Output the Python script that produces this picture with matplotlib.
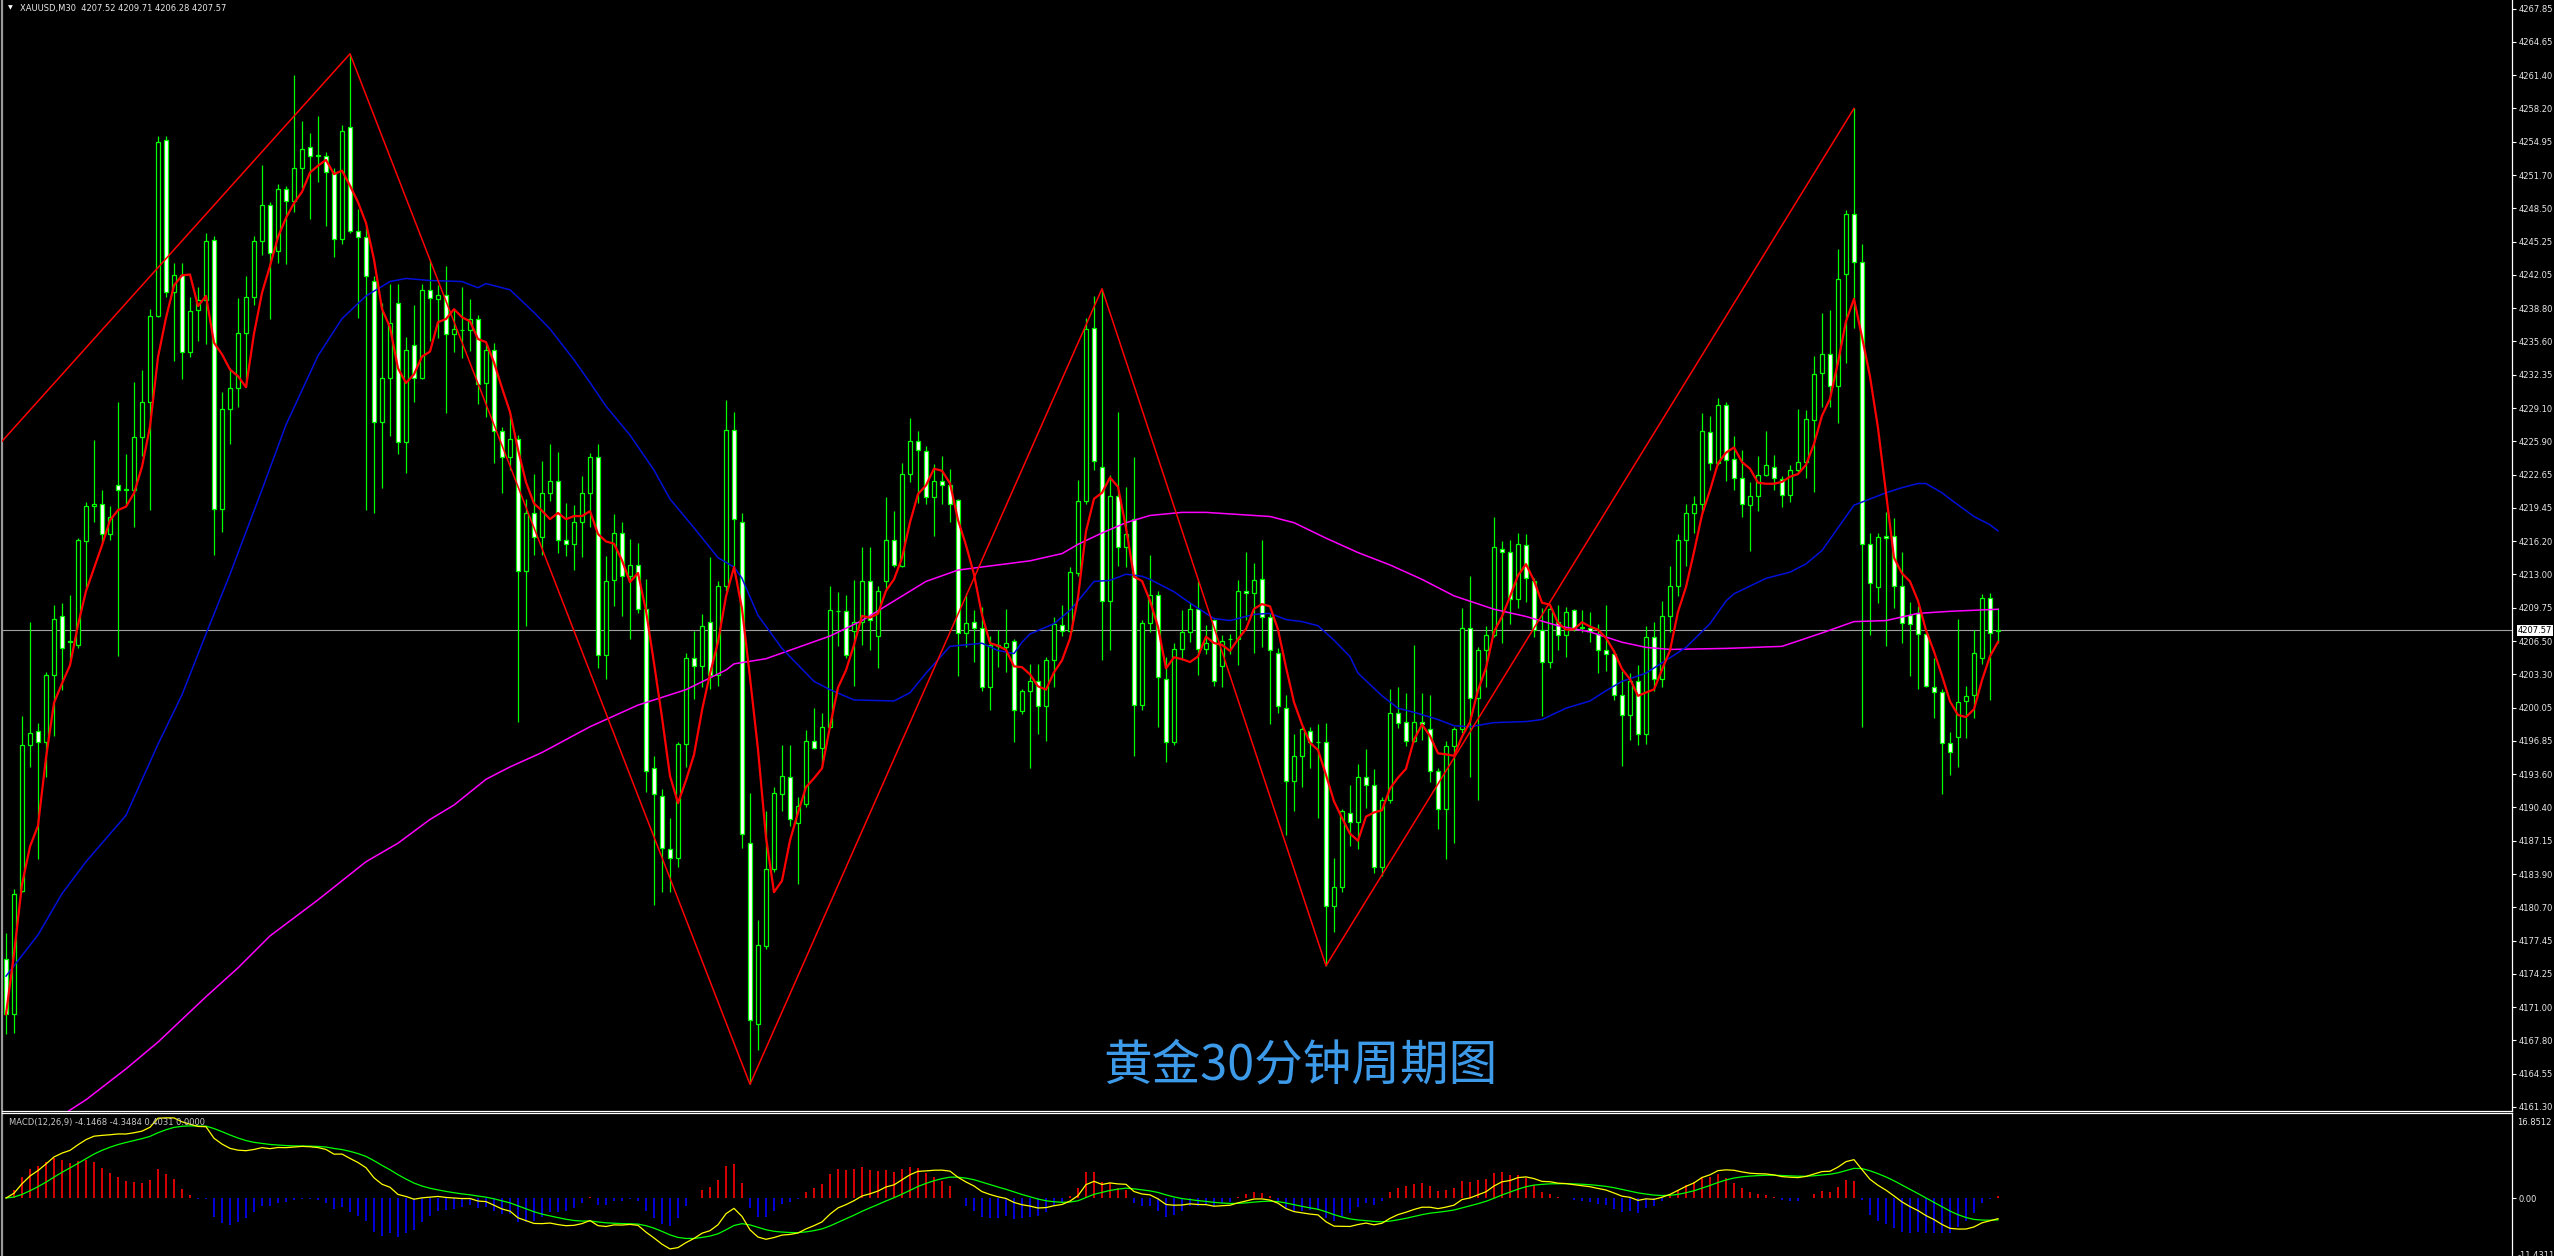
"""XAUUSD M30 chart in MT4 style: candles, MA5/MA60/MA200, zigzag, MACD panel."""
import matplotlib
matplotlib.use("Agg")
import matplotlib.pyplot as plt  # noqa: E402
import matplotlib.transforms as mtransforms  # noqa: E402
import pandas as pd  # noqa: E402

W, H = 2554, 1256

# ---- candle data (one bar per 30 min) ----
opens = [
    4175.7, 4170.3, 4182.3, 4196.4, 4197.8, 4196.7, 4203.2, 4208.9, 4206.5, 4206.1,
    4216.2, 4219.6, 4219.8, 4216.9, 4221.7, 4221.2, 4221.2, 4226.3, 4229.7, 4238.1,
    4255.1, 4240.4, 4242.0, 4234.6, 4238.6, 4239.6, 4245.4, 4219.3, 4229.0, 4231.1,
    4236.4, 4239.9, 4245.3, 4248.8, 4244.4, 4250.4, 4249.2, 4252.4, 4254.5, 4253.6,
    4253.6, 4252.0, 4245.5, 4256.4, 4246.3, 4245.7, 4241.5, 4227.8, 4232.0, 4239.3,
    4225.8, 4235.2, 4232.0, 4240.6, 4239.7, 4240.1, 4236.3, 4236.7, 4236.7, 4237.8,
    4231.6, 4234.8, 4226.9, 4224.4, 4226.1, 4213.3, 4218.9, 4216.6, 4220.9, 4222.0,
    4216.3, 4215.9, 4218.1, 4220.9, 4224.4, 4205.2, 4212.4, 4217.0, 4212.8, 4213.9,
    4209.6, 4194.2, 4191.5, 4186.3, 4185.5, 4196.5, 4204.9, 4204.1, 4208.4, 4203.2,
    4211.9, 4227.0, 4218.1, 4186.9, 4169.4, 4176.9, 4184.4, 4191.7, 4193.3, 4188.9,
    4190.7, 4196.8, 4196.1, 4198.2, 4209.4, 4209.4, 4207.5, 4208.4, 4212.3, 4207.0,
    4212.3, 4216.3, 4213.8, 4222.7, 4225.9, 4225.0, 4220.5, 4222.0, 4221.7, 4220.2,
    4207.3, 4208.4, 4207.8, 4202.1, 4206.1, 4205.9, 4206.5, 4199.7, 4201.7, 4202.6,
    4200.2, 4204.7, 4208.1, 4207.5, 4213.1, 4220.1, 4236.9, 4223.4, 4210.4, 4220.6,
    4215.6, 4218.4, 4200.3, 4208.3, 4211.0, 4202.8, 4196.7, 4205.7, 4207.4, 4209.6,
    4205.7, 4208.6, 4204.1, 4206.7, 4206.7, 4211.4, 4211.2, 4212.5, 4208.8, 4205.4,
    4200.0, 4192.9, 4195.4, 4197.8, 4196.7, 4196.7, 4180.8, 4182.6, 4189.8, 4189.0,
    4193.3, 4192.5, 4184.6, 4191.1, 4199.5, 4198.7, 4196.8, 4198.7, 4198.0, 4193.9,
    4190.2, 4196.3, 4198.0, 4207.8, 4201.0, 4205.6, 4207.1, 4215.4, 4215.2, 4210.6,
    4215.8, 4212.3, 4207.6, 4204.5, 4208.4, 4207.1, 4209.5, 4207.8, 4207.8, 4207.2,
    4205.6, 4205.3, 4201.3, 4199.3, 4202.6, 4197.5, 4206.9, 4202.8, 4208.9, 4211.9,
    4216.3, 4218.9, 4219.8, 4226.8, 4223.8, 4229.4, 4224.2, 4222.3, 4219.7, 4220.6,
    4222.6, 4223.4, 4222.2, 4220.7, 4223.1, 4223.9, 4228.0, 4232.5, 4234.4, 4231.3,
    4242.1, 4248.0, 4243.3, 4215.9, 4211.8, 4216.7, 4216.7, 4211.9, 4209.0, 4209.2,
    4207.2, 4202.1, 4201.6, 4196.6, 4197.2, 4200.7, 4201.3, 4204.9, 4210.7, 4207.52,
]
highs = [
    4178.2, 4182.5, 4199.2, 4208.4, 4198.6, 4203.5, 4210.0, 4210.2, 4211.0, 4216.5,
    4220.0, 4226.0, 4221.2, 4219.6, 4229.7, 4224.7, 4231.7, 4232.8, 4238.7, 4255.5,
    4255.5, 4243.2, 4243.2, 4239.9, 4240.9, 4246.1, 4245.8, 4230.7, 4233.0, 4239.8,
    4241.9, 4245.8, 4252.7, 4249.1, 4250.9, 4250.7, 4261.4, 4257.0, 4255.8, 4257.5,
    4254.0, 4252.4, 4256.6, 4263.5, 4248.4, 4246.8, 4241.9, 4239.3, 4241.2, 4241.2,
    4236.0, 4239.1, 4241.2, 4243.5, 4241.1, 4242.9, 4238.7, 4240.9, 4239.7, 4238.2,
    4235.4, 4235.4, 4227.3, 4228.6, 4226.5, 4220.3, 4222.7, 4224.0, 4225.6, 4224.9,
    4219.9, 4219.7, 4222.5, 4224.8, 4225.6, 4214.8, 4218.8, 4218.1, 4216.4, 4216.0,
    4212.5, 4195.4, 4192.2, 4189.3, 4196.7, 4205.4, 4207.5, 4209.1, 4214.7, 4212.3,
    4229.9, 4228.7, 4218.9, 4191.8, 4179.4, 4190.0, 4192.4, 4196.4, 4196.4, 4191.4,
    4197.9, 4200.0, 4199.5, 4211.9, 4211.3, 4211.0, 4212.4, 4215.6, 4215.6, 4211.9,
    4220.5, 4219.1, 4223.8, 4228.2, 4226.9, 4225.4, 4223.7, 4224.5, 4223.2, 4220.3,
    4211.2, 4209.5, 4209.8, 4207.0, 4207.6, 4209.6, 4206.7, 4201.9, 4204.3, 4204.3,
    4205.0, 4208.8, 4210.0, 4213.7, 4222.1, 4237.9, 4240.0, 4240.7, 4222.6, 4228.7,
    4221.5, 4224.4, 4208.6, 4214.9, 4211.4, 4205.0, 4206.3, 4209.5, 4210.3, 4212.3,
    4208.1, 4208.7, 4207.1, 4207.2, 4212.4, 4215.2, 4214.1, 4216.3, 4209.2, 4205.8,
    4201.3, 4197.5, 4198.2, 4198.2, 4198.5, 4198.6, 4185.5, 4190.2, 4192.5, 4194.6,
    4196.0, 4194.1, 4191.4, 4201.9, 4202.1, 4201.5, 4206.1, 4201.5, 4201.3, 4194.2,
    4196.8, 4198.2, 4209.7, 4212.8, 4205.9, 4208.0, 4218.6, 4216.2, 4216.3, 4217.0,
    4216.9, 4212.6, 4209.7, 4210.0, 4210.0, 4209.8, 4209.6, 4209.5, 4209.3, 4208.2,
    4210.0, 4205.6, 4203.6, 4203.4, 4204.2, 4208.0, 4208.4, 4210.4, 4213.8, 4216.9,
    4219.8, 4220.6, 4228.6, 4228.4, 4230.1, 4229.7, 4226.4, 4225.1, 4221.9, 4224.5,
    4226.9, 4224.6, 4222.5, 4223.6, 4229.0, 4228.9, 4234.2, 4238.3, 4238.6, 4244.6,
    4248.3, 4258.2, 4245.0, 4217.0, 4217.0, 4219.0, 4218.5, 4215.2, 4210.3, 4209.9,
    4207.3, 4204.9, 4201.9, 4197.7, 4208.7, 4202.2, 4207.6, 4211.1, 4211.2, 4209.71,
]
lows = [
    4168.4, 4168.5, 4182.2, 4194.3, 4185.4, 4193.3, 4197.3, 4201.8, 4204.5, 4205.8,
    4211.7, 4218.1, 4216.1, 4216.3, 4205.1, 4219.6, 4217.6, 4224.5, 4219.2, 4238.0,
    4239.9, 4233.7, 4231.9, 4234.1, 4235.6, 4235.3, 4214.9, 4217.1, 4225.6, 4229.2,
    4231.2, 4239.1, 4244.0, 4237.8, 4243.2, 4243.1, 4248.1, 4250.5, 4247.5, 4251.1,
    4246.8, 4243.8, 4245.0, 4246.1, 4237.9, 4219.2, 4218.9, 4221.4, 4226.4, 4224.7,
    4222.8, 4229.7, 4231.9, 4235.6, 4235.9, 4228.6, 4234.6, 4234.0, 4234.7, 4229.5,
    4228.3, 4223.8, 4220.9, 4223.1, 4198.7, 4208.0, 4214.9, 4214.9, 4220.1, 4215.1,
    4214.8, 4213.4, 4214.7, 4217.6, 4203.9, 4202.8, 4209.9, 4208.9, 4206.7, 4209.2,
    4191.9, 4180.9, 4182.2, 4182.2, 4184.6, 4194.3, 4200.9, 4202.1, 4201.9, 4202.2,
    4211.4, 4213.7, 4186.4, 4163.5, 4166.8, 4176.6, 4184.1, 4190.0, 4188.6, 4182.9,
    4190.4, 4196.0, 4194.3, 4198.1, 4206.0, 4204.9, 4202.2, 4206.1, 4205.6, 4203.9,
    4211.4, 4213.7, 4213.7, 4221.9, 4219.9, 4219.8, 4216.7, 4219.8, 4218.1, 4203.1,
    4205.9, 4204.5, 4201.7, 4199.8, 4204.0, 4203.5, 4196.7, 4199.4, 4194.2, 4197.5,
    4196.8, 4202.1, 4207.0, 4207.3, 4212.8, 4219.8, 4223.1, 4204.7, 4205.6, 4213.8,
    4213.7, 4195.4, 4199.8, 4207.4, 4198.2, 4194.8, 4196.4, 4204.7, 4206.4, 4203.2,
    4205.3, 4202.2, 4202.1, 4205.3, 4204.2, 4208.6, 4205.4, 4205.9, 4198.5, 4199.5,
    4187.7, 4190.0, 4192.4, 4194.2, 4189.3, 4175.0, 4178.3, 4182.2, 4186.6, 4186.3,
    4190.3, 4184.0, 4183.7, 4190.8, 4198.1, 4196.3, 4196.7, 4196.9, 4192.8, 4188.3,
    4185.4, 4186.9, 4197.6, 4193.3, 4191.1, 4202.1, 4206.9, 4206.3, 4208.2, 4209.7,
    4210.3, 4206.9, 4199.2, 4203.9, 4205.6, 4205.0, 4207.5, 4207.4, 4206.4, 4203.4,
    4203.6, 4200.8, 4194.4, 4196.9, 4196.4, 4196.5, 4201.7, 4202.1, 4207.4, 4210.9,
    4213.8, 4217.0, 4218.9, 4223.1, 4223.6, 4222.0, 4221.2, 4218.6, 4215.3, 4219.1,
    4222.5, 4221.2, 4219.5, 4220.0, 4222.8, 4222.3, 4221.0, 4229.2, 4229.2, 4227.7,
    4233.5, 4236.9, 4198.2, 4207.1, 4210.2, 4206.0, 4209.7, 4206.3, 4203.1, 4201.9,
    4202.1, 4199.0, 4191.7, 4193.5, 4194.3, 4197.1, 4199.0, 4204.3, 4200.8, 4206.28,
]
closes = [
    4170.3, 4182.0, 4196.4, 4197.6, 4196.7, 4203.2, 4208.7, 4205.8, 4206.4, 4216.3,
    4219.6, 4219.8, 4216.9, 4218.6, 4221.2, 4221.3, 4226.3, 4229.7, 4238.1, 4254.9,
    4240.4, 4242.0, 4234.6, 4238.5, 4239.6, 4245.3, 4219.3, 4229.0, 4231.1, 4236.4,
    4239.9, 4245.3, 4248.8, 4244.2, 4250.4, 4249.2, 4252.4, 4254.3, 4253.6, 4253.7,
    4252.0, 4245.5, 4256.0, 4246.3, 4245.7, 4241.9, 4227.8, 4232.0, 4237.4, 4225.8,
    4234.8, 4232.0, 4240.6, 4239.8, 4240.1, 4236.3, 4236.8, 4236.7, 4237.8, 4231.5,
    4234.8, 4226.9, 4224.4, 4226.1, 4213.3, 4218.9, 4216.6, 4220.9, 4222.0, 4216.3,
    4215.9, 4218.1, 4220.9, 4224.4, 4205.2, 4212.3, 4217.0, 4212.8, 4213.9, 4209.6,
    4193.9, 4191.7, 4186.4, 4185.5, 4196.5, 4204.9, 4204.1, 4208.0, 4203.2, 4211.9,
    4227.0, 4218.4, 4187.8, 4169.7, 4177.0, 4184.4, 4191.8, 4193.4, 4189.2, 4190.5,
    4196.8, 4196.1, 4198.2, 4209.5, 4209.4, 4205.2, 4208.4, 4212.3, 4208.6, 4211.4,
    4216.3, 4213.9, 4222.7, 4225.9, 4225.1, 4220.5, 4222.0, 4221.7, 4219.8, 4207.3,
    4208.3, 4207.8, 4202.1, 4206.1, 4206.0, 4206.3, 4199.8, 4201.7, 4202.6, 4200.2,
    4204.7, 4208.2, 4207.5, 4213.2, 4220.1, 4236.8, 4224.0, 4210.4, 4220.6, 4215.6,
    4216.9, 4200.3, 4208.3, 4211.0, 4203.0, 4196.7, 4205.7, 4207.4, 4209.6, 4205.7,
    4206.3, 4202.6, 4206.5, 4206.7, 4211.4, 4211.2, 4212.4, 4208.8, 4205.6, 4200.2,
    4192.9, 4195.4, 4198.0, 4196.7, 4196.7, 4180.8, 4182.6, 4190.0, 4189.0, 4193.3,
    4192.5, 4184.6, 4191.1, 4199.5, 4198.6, 4196.8, 4198.7, 4198.5, 4193.9, 4190.2,
    4196.3, 4198.0, 4207.8, 4201.0, 4205.6, 4207.1, 4215.6, 4215.2, 4210.6, 4215.9,
    4212.6, 4207.6, 4204.5, 4209.6, 4207.1, 4209.3, 4207.8, 4207.9, 4207.5, 4205.6,
    4205.3, 4201.3, 4199.3, 4202.6, 4197.5, 4206.9, 4202.8, 4208.9, 4211.9, 4216.3,
    4218.9, 4219.8, 4226.9, 4223.8, 4229.4, 4224.1, 4222.3, 4219.8, 4220.6, 4222.6,
    4223.6, 4222.3, 4220.7, 4223.1, 4223.9, 4228.1, 4232.4, 4234.4, 4231.3, 4241.6,
    4248.0, 4243.3, 4215.9, 4212.1, 4216.6, 4216.5, 4211.9, 4208.3, 4208.2, 4207.2,
    4202.2, 4201.6, 4196.6, 4195.7, 4200.6, 4201.2, 4205.4, 4210.7, 4207.3, 4207.57,
]

# slow moving averages (bar index, value) – history starts before the visible window
ma60_idx = [0, 4, 7, 10, 15, 19, 22, 25, 28, 32, 35, 39, 42, 45, 48, 50, 53, 57, 59, 60,
            63, 66, 68, 71, 73, 75, 78, 81, 83, 86, 89, 91, 92, 94, 97, 101, 103, 106, 111, 113,
            115, 118, 122, 124, 126, 127, 128, 131, 133, 134, 136, 138, 140, 142, 143, 146, 148, 151, 153, 156,
            158, 160, 162, 164, 166, 168, 169, 172, 174, 176, 179, 181, 183, 186, 190, 192, 195, 198, 200, 202,
            205, 208, 210, 213, 215, 216, 220, 223, 225, 227, 228, 231, 233, 235, 237, 239, 240, 242, 243, 246,
            248, 249]
ma60_val = [4174.0, 4178.0, 4182.0, 4185.1, 4189.6, 4196.5, 4201.3, 4207.2, 4213.0, 4221.2,
            4227.5, 4234.2, 4237.8, 4240.0, 4241.4, 4241.7, 4241.5, 4241.4, 4240.8, 4241.2,
            4240.6, 4238.4, 4236.8, 4233.8, 4231.6, 4229.3, 4226.5, 4223.1, 4220.3, 4217.5,
            4214.6, 4213.7, 4212.6, 4209.0, 4205.8, 4202.6, 4201.8, 4200.8, 4200.7, 4201.5,
            4203.4, 4206.0, 4206.3, 4205.6, 4205.3, 4206.4, 4207.2, 4208.2, 4209.5, 4210.4,
            4212.3, 4212.4, 4213.0, 4212.8, 4212.5, 4211.3, 4210.2, 4208.7, 4208.5, 4209.1,
            4209.2, 4208.6, 4208.4, 4208.0, 4206.6, 4205.0, 4203.4, 4201.2, 4200.0, 4199.6,
            4198.9, 4198.3, 4198.2, 4198.6, 4198.7, 4198.9, 4200.0, 4200.7, 4201.7, 4202.6,
            4203.4, 4204.9, 4205.9, 4208.2, 4210.4, 4211.1, 4212.6, 4213.2, 4214.0, 4215.3,
            4216.4, 4219.7, 4220.3, 4220.9, 4221.4, 4221.8, 4221.8, 4220.9, 4220.3, 4218.6,
            4217.8, 4217.2]
ma200_idx = [7, 10, 15, 19, 25, 29, 33, 39, 45, 49, 53, 56, 60, 63, 67, 73, 79, 85, 90, 91,
             95, 99, 103, 107, 111, 115, 119, 123, 128, 132, 134, 137, 140, 143, 147, 150, 154, 158, 161, 165,
             169, 173, 177, 181, 186, 190, 194, 198, 202, 205, 208, 215, 222, 227, 231, 235, 239, 243, 249]
ma200_val = [4160.5, 4162.0, 4165.0, 4167.6, 4172.0, 4174.8, 4177.9, 4181.4, 4185.1, 4186.9,
             4189.2, 4190.6, 4193.1, 4194.3, 4195.7, 4198.2, 4200.3, 4201.8, 4203.7, 4204.3,
             4204.8, 4205.9, 4207.0, 4208.5, 4210.4, 4212.3, 4213.4, 4213.8, 4214.3, 4215.0,
             4215.9, 4217.0, 4218.0, 4218.7, 4219.0, 4219.0, 4218.8, 4218.6, 4218.0, 4216.5,
             4215.1, 4213.9, 4212.5, 4210.9, 4209.6, 4208.9, 4208.0, 4207.4, 4206.4, 4205.9,
             4205.7, 4205.8, 4206.0, 4207.3, 4208.4, 4208.5, 4209.2, 4209.4, 4209.6]

# zigzag pivots
zz_idx = [-0.5, 43, 93, 137, 165, 231]
zz_val = [4225.9, 4263.5, 4163.5, 4240.7, 4175.0, 4258.2]

price_ticks = [4267.85, 4264.65, 4261.40, 4258.20, 4254.95, 4251.70, 4248.50, 4245.25,
               4242.05, 4238.80, 4235.60, 4232.35, 4229.10, 4225.90, 4222.65, 4219.45,
               4216.20, 4213.00, 4209.75, 4206.50, 4203.30, 4200.05, 4196.85, 4193.60,
               4190.40, 4187.15, 4183.90, 4180.70, 4177.45, 4174.25, 4171.00, 4167.80,
               4164.55, 4161.30]
macd_top, macd_bottom = 16.8512, -11.4311

header = "XAUUSD,M30  4207.52 4209.71 4206.28 4207.57"
macd_label = "MACD(12,26,9) -4.1468 -4.3484 0.4031 0.0000"
title = "黄金30分钟周期图"

GREEN = "#00ff00"
idx = list(range(len(closes)))

fig = plt.figure(figsize=(W / 100, H / 100), dpi=100, facecolor="black")
ax = fig.add_axes([2 / W, (H - 1110.5) / H, 2510 / W, 1110.5 / H], facecolor="black")
mx = fig.add_axes([2 / W, 0, 2510 / W, 143.5 / H], facecolor="black")

for a in (ax, mx):
    a.set_xlim(-0.5, 313.25)
    a.set_xticks([])
    a.spines["left"].set_color("#9a9a9a")
    a.spines["left"].set_linewidth(1.6)
    a.spines["right"].set_color("white")
    a.spines["right"].set_linewidth(0.9)
    a.yaxis.tick_right()
    a.tick_params(axis="y", colors="white", labelcolor="#e8e8e8", labelsize=6,
                  length=3, width=0.8, pad=1.5)
ax.spines["top"].set_visible(False)
ax.spines["bottom"].set_color("white")
ax.spines["bottom"].set_linewidth(0.9)
mx.spines["bottom"].set_visible(False)
mx.spines["top"].set_color("white")
mx.spines["top"].set_linewidth(0.9)

# ---- main price panel ----
ax.set_ylim(4160.96, 4268.72)
ax.set_yticks(price_ticks)
ax.set_yticklabels([f"{v:.2f}" for v in price_ticks])

ax.axhline(closes[-1], color="#a0a0a0", lw=0.8, zorder=1)
fill = ["white" if c < o else "black" for o, c in zip(opens, closes)]
ax.vlines(idx, lows, highs, color=GREEN, lw=0.9, zorder=2)
ax.bar(idx, [c - o for o, c in zip(opens, closes)], bottom=opens, width=0.5,
       color=fill, edgecolor=GREEN, linewidth=0.9, zorder=3)

sma5 = pd.Series(closes).rolling(5, min_periods=1).mean()
ax.plot(ma200_idx, ma200_val, color="#ff00ff", lw=1.1, zorder=4)
ax.plot(ma60_idx, ma60_val, color="#0010d8", lw=1.1, zorder=4)
ax.plot(zz_idx, zz_val, color="#ff0000", lw=1.1, zorder=5)
ax.plot(idx, sma5, color="#ff0000", lw=1.6, zorder=5)

blend = mtransforms.blended_transform_factory(ax.transAxes, ax.transData)
ax.text(1.0022, closes[-1], f"{closes[-1]:.2f}", transform=blend, ha="left", va="center",
        fontsize=6, color="black", zorder=10, clip_on=False,
        bbox=dict(boxstyle="square,pad=0.12", fc="white", ec="none"))

# ---- MACD panel (DIF, DEA, bar = 2*(DIF-DEA)) ----
s = pd.Series(closes)
dif = s.ewm(span=12, adjust=False).mean() - s.ewm(span=26, adjust=False).mean()
dea = dif.ewm(span=9, adjust=False).mean()
bars = 2 * (dif - dea)
mx.set_ylim(macd_bottom, macd_top)
mx.vlines(idx, 0, bars, colors=["#ff0000" if b > 0 else "#0000ff" for b in bars], lw=1.2)
mx.plot(idx, dea, color=GREEN, lw=0.9)
mx.plot(idx, dif, color="#ffff00", lw=0.9)
mx.set_yticks([0])
mx.set_yticklabels(["0.00"])
mx.text(1.0022, 0.965, f"{macd_top:.4f}", transform=mx.transAxes, ha="left", va="top",
        fontsize=6, color="#e8e8e8", clip_on=False)
mx.text(1.0022, 0.0, f"{macd_bottom:.4f}", transform=mx.transAxes, ha="left", va="center",
        fontsize=6, color="#e8e8e8", clip_on=False)

# ---- texts ----
fig.text(8 / W, 1 - 8 / H, "▼", fontsize=4.5, color="white", va="center", ha="left")
fig.text(20 / W, 1 - 8 / H, header, fontsize=6, color="#e8e8e8", va="center", ha="left")
fig.text(9 / W, 1 - 1122 / H, macd_label, fontsize=6, color="#c8c8c8", va="center", ha="left")
fig.text(1300 / W, 1 - 1066 / H, title, fontsize=35, color="#3d9ae8", ha="center", va="center",
         family=["Noto Sans CJK SC", "DejaVu Sans"])

fig.savefig("out.png", dpi=100, facecolor="black")
